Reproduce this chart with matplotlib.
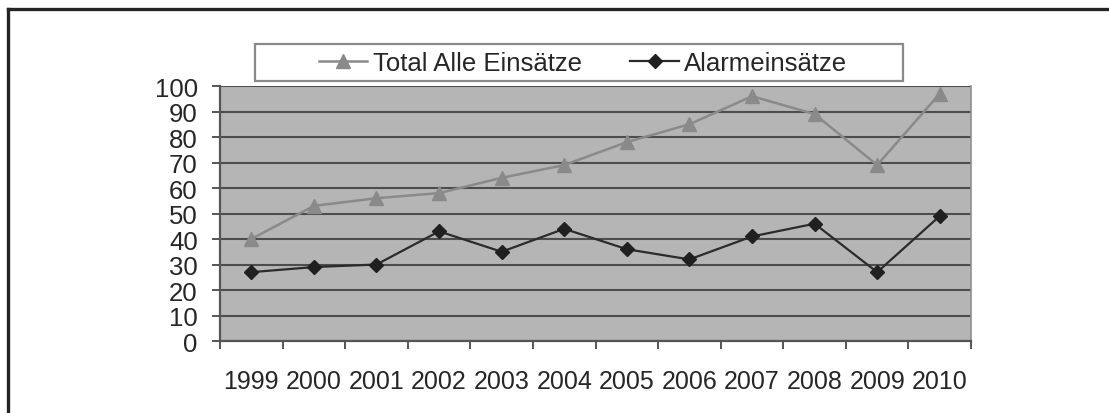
import matplotlib
matplotlib.use("Agg")
import matplotlib.pyplot as plt
from matplotlib.lines import Line2D
from matplotlib.patches import Rectangle
from matplotlib.ticker import FixedLocator

plt.rcParams['font.family'] = ['Liberation Sans', 'DejaVu Sans']

# Einsatzstatistik pro Jahr
jahre = ['1999', '2000', '2001', '2002', '2003', '2004',
         '2005', '2006', '2007', '2008', '2009', '2010']
total_einsaetze = [40, 53, 56, 58, 64, 69, 78, 85, 96, 89, 69, 97]
alarm_einsaetze = [27, 29, 30, 43, 35, 44, 36, 32, 41, 46, 27, 49]

TEXT_FARBE = '#262626'

fig = plt.figure(figsize=(11.09, 4.14), dpi=100)
fig.patch.set_facecolor('white')
ax = fig.add_axes([0.1984, 0.1739, 0.6772, 0.6159])
ax.set_facecolor('#b5b5b5')

x = list(range(len(jahre)))
ax.plot(x, total_einsaetze, color='#8a8a8a', lw=1.8, marker='^',
        markersize=10, markerfacecolor='#8a8a8a', markeredgecolor='#8a8a8a',
        label='Total Alle Einsätze', zorder=3)
ax.plot(x, alarm_einsaetze, color='#2b2b2b', lw=1.6, marker='D',
        markersize=7, markerfacecolor='#202020', markeredgecolor='#202020',
        label='Alarmeinsätze', zorder=4)

ax.set_xlim(-0.5, len(jahre) - 0.5)
ax.set_ylim(0, 100)
ax.set_yticks(range(0, 101, 10))
ax.yaxis.grid(True, color='#4d4d4d', lw=1.5)
ax.set_axisbelow(True)

# Beschriftung mittig, Striche an den Kategoriegrenzen
ax.set_xticks(x)
ax.set_xticklabels(jahre)
ax.xaxis.set_minor_locator(FixedLocator([i - 0.5 for i in range(len(jahre) + 1)]))
ax.tick_params(axis='x', which='major', length=0, pad=20,
               labelsize=18, labelcolor=TEXT_FARBE)
ax.tick_params(axis='x', which='minor', length=6, width=1.4, color='#555555')
ax.tick_params(axis='y', length=6, width=1.4, color='#555555', pad=10,
               labelsize=18.5, labelcolor=TEXT_FARBE)

for seite in ['left', 'bottom']:
    ax.spines[seite].set_color('#555555')
    ax.spines[seite].set_linewidth(1.6)
ax.spines['right'].set_color('#8f8f8f')
ax.spines['right'].set_linewidth(1.2)
ax.spines['top'].set_visible(False)

# Legende mit eigenem Rahmen ueber dem Diagramm
fig.patches.append(Rectangle((0.2299, 0.8019), 0.5843, 0.0894,
                             transform=fig.transFigure, facecolor='white',
                             edgecolor='#8a8a8a', lw=1.6, zorder=1))
leg = fig.legend(loc='center', bbox_to_anchor=(0.5257, 0.8466), ncol=2,
                 frameon=False, fontsize=18.5, handlelength=1.9,
                 handletextpad=0.2, columnspacing=1.9)
for t in leg.get_texts():
    t.set_color(TEXT_FARBE)

# Rahmen oben und links
fig.add_artist(Line2D([0.0075, 1.0], [0.9770, 0.9770], transform=fig.transFigure,
                      color='#242424', lw=2.4))
fig.add_artist(Line2D([0.0075, 0.0075], [0.0, 0.9770], transform=fig.transFigure,
                      color='#242424', lw=2.4))

fig.savefig('out.png', dpi=100, facecolor='white')
